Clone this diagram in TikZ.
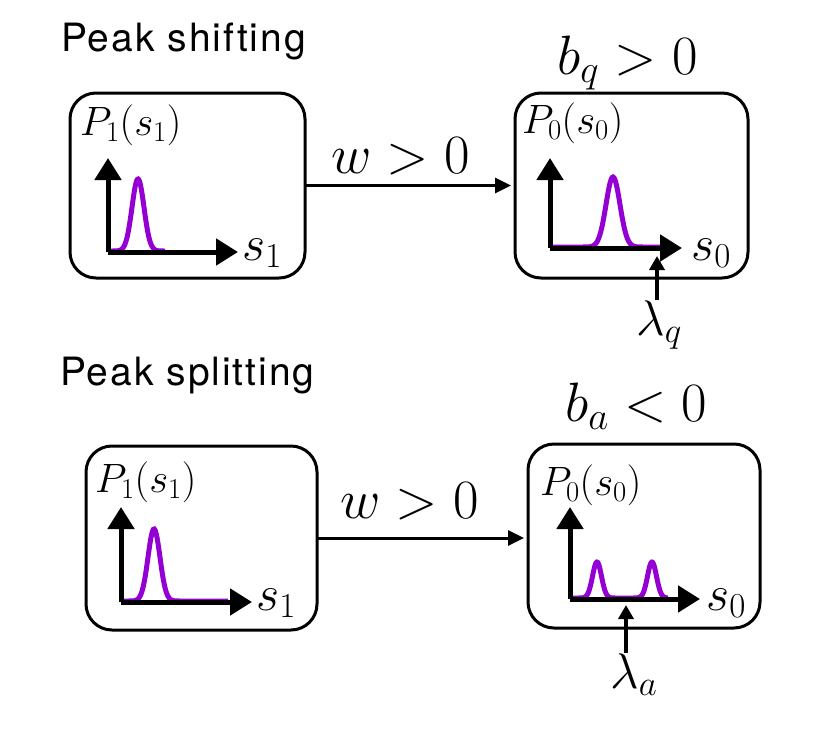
\RequirePackage{fix-cm}
\documentclass[tikz,border=0pt]{standalone}
\usepackage{fontspec}
\newfontfamily\titlefont{TeX Gyre Heros}[LetterSpace=5]
\usetikzlibrary{arrows.meta}
\definecolor{peakcol}{RGB}{148,0,211}
\begin{document}
\begin{tikzpicture}[x=1pt,y=-1pt,
 box/.style={draw,line width=3pt,rounded corners=26pt,inner sep=0pt,outer sep=0pt},
 axis/.style={line width=5pt,-{Triangle[length=22pt,width=26pt]}},
 curve/.style={peakcol,line width=5pt},
 title/.style={font=\titlefont\fontsize{39}{41}\selectfont,anchor=base west,inner sep=0pt},
 mlab/.style={font=\fontsize{50}{52}\selectfont,anchor=base west,inner sep=0pt},
 mbig/.style={font=\fontsize{55.5}{58}\selectfont,anchor=base west,inner sep=0pt},
 plab/.style={font=\fontsize{41}{43}\selectfont,anchor=base west,inner sep=0pt},
 conn/.style={line width=3pt,-{Triangle[length=16pt,width=15pt]},shorten >=4pt},
 lamarr/.style={line width=3.5pt,-{Triangle[length=14pt,width=15pt]}}]
\useasboundingbox (0,0) rectangle (830,747);

% ---------- top: peak shifting ----------
\node[title] (t1) at (61,51) {Peak shifting};
\node[box,minimum width=235pt,minimum height=185pt] (b1) at (187.5,185.5) {};
\node[box,minimum width=233pt,minimum height=185pt] (b2) at (631.5,185.5) {};
\node[mbig] (bq) at (557,74) {$b_q > 0$};
\node[mbig] (w1) at (331,173) {$w > 0$};
\draw[conn] (b1.east) -- (b1.east -| b2.west);

% box 1 contents
\node[plab] (p1) at (80,135) {$P_1(s_1)$};
\draw[curve] plot[domain=108:165,samples=90] (\x,{251-72*exp(-((\x-138)^2)/72)});
\coordinate (o1) at (108,252);
\draw[axis] (o1) -- (108,158);
\draw[axis] (o1) -- (238,252);
\node[mlab] (s1) at (242,260) {$s_1$};

% box 2 contents
\node[plab] (p2) at (522,133) {$P_0(s_0)$};
\draw[curve] plot[domain=550:662,samples=120] (\x,{247-70*exp(-((\x-613)^2)/98)});
\coordinate (o2) at (550,248);
\draw[axis] (o2) -- (550,158);
\draw[axis] (o2) -- (682,248);
\node[mlab] (s2) at (691,260) {$s_0$};
\node[mlab] (lq) at (636,335) {$\lambda_q$};
\coordinate (tq) at (657,256);
\draw[lamarr] (lq.north -| tq) -- (tq);

% ---------- bottom: peak splitting ----------
\node[title] (t2) at (60,385) {Peak splitting};
\node[box,minimum width=231pt,minimum height=184pt] (b3) at (201.5,538) {};
\node[box,minimum width=232pt,minimum height=184pt] (b4) at (644,536) {};
\node[mbig] (ba) at (565,421) {$b_a < 0$};
\node[mbig] (w2) at (340,518) {$w > 0$};
\draw[conn] (b3.east) -- (b3.east -| b4.west);

% box 3 contents
\node[plab] (p3) at (95,492) {$P_1(s_1)$};
\draw[curve] plot[domain=121:228,samples=120] (\x,{601-72*exp(-((\x-154)^2)/72)});
\coordinate (o3) at (121,602);
\draw[axis] (o3) -- (121,507);
\draw[axis] (o3) -- (252,602);
\node[mlab] (s3) at (256,610) {$s_1$};

% box 4 contents
\node[plab] (p4) at (540,495) {$P_0(s_0)$};
\draw[curve] plot[domain=570:668,samples=140] (\x,{598-36*exp(-((\x-597)^2)/40)-36*exp(-((\x-652)^2)/40)});
\coordinate (o4) at (570,599);
\draw[axis] (o4) -- (570,507);
\draw[axis] (o4) -- (700,599);
\node[mlab] (s4) at (706,610) {$s_0$};
\node[mlab] (la) at (610,688) {$\lambda_a$};
\coordinate (ta) at (626,605);
\draw[lamarr] (la.north -| ta) -- (ta);
\end{tikzpicture}
\end{document}
